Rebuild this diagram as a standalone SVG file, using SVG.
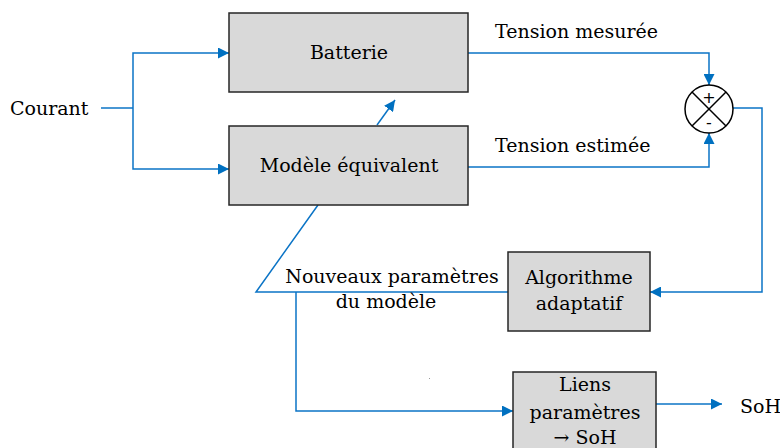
<svg xmlns="http://www.w3.org/2000/svg" width="780" height="448" viewBox="0 0 780 448">
<defs>
<marker id="ah" viewBox="0 0 10 10" refX="10" refY="5" markerWidth="11" markerHeight="11" markerUnits="userSpaceOnUse" orient="auto">
<path d="M0,0 L10,5 L0,10 z" fill="#0070C0"/>
</marker>
<style>
.box{fill:#D9D9D9;stroke:#262626;stroke-width:1.5}
.ln{fill:none;stroke:#0B74C6;stroke-width:1.5}
.t{font-family:"DejaVu Serif","Liberation Serif",serif;font-size:19px;fill:#000}
.c{text-anchor:middle}
</style>
</defs>
<rect width="780" height="448" fill="#fff"/>
<g id="connectors">
<path class="ln" d="M101,108 H133"/>
<path class="ln" d="M133,108 V53 H229" marker-end="url(#ah)"/>
<path class="ln" d="M133,108 V169 H229" marker-end="url(#ah)"/>
<path class="ln" d="M377,125 L395,100" marker-end="url(#ah)"/>
<path class="ln" d="M468,53 H709 V85" marker-end="url(#ah)"/>
<path class="ln" d="M468,167 H709 V133" marker-end="url(#ah)"/>
<path class="ln" d="M733,108 H762 V292 H650" marker-end="url(#ah)"/>
<path class="ln" d="M508,292 H256 L318,205"/>
<path class="ln" d="M296,292 V411 H513" marker-end="url(#ah)"/>
<path class="ln" d="M656,404 H722" marker-end="url(#ah)"/>
</g>
<g id="batterie">
<rect class="box" x="229" y="13" width="239" height="79"/>
<text class="t c" x="349" y="59">Batterie</text>
</g>
<g id="modele">
<rect class="box" x="229" y="126" width="239" height="79"/>
<text class="t c" x="349" y="172">Modèle équivalent</text>
</g>
<g id="sommateur">
<circle cx="709" cy="109" r="24" fill="#fff" stroke="#000" stroke-width="1.5"/>
<path d="M692,92 L726,126 M726,92 L692,126" stroke="#000" stroke-width="1.5"/>
<text x="709" y="103" text-anchor="middle" style="font-family:'DejaVu Sans',sans-serif;font-size:16px">+</text>
<text x="709" y="128" text-anchor="middle" style="font-family:'DejaVu Sans',sans-serif;font-size:16px">-</text>
</g>
<g id="algorithme">
<rect class="box" x="508" y="252" width="142" height="79"/>
<text class="t c" x="579" y="284">Algorithme</text>
<text class="t c" x="579" y="310">adaptatif</text>
</g>
<g id="liens">
<rect class="box" x="513" y="372" width="143" height="80"/>
<text class="t c" x="585" y="391">Liens</text>
<text class="t c" x="585" y="419">paramètres</text>
<text class="t c" x="585" y="444">→ SoH</text>
</g>
<g id="labels">
<text class="t" x="10" y="115">Courant</text>
<text class="t" x="495" y="38">Tension mesurée</text>
<text class="t" x="495" y="152">Tension estimée</text>
<text class="t c" x="392" y="283">Nouveaux paramètres</text>
<text class="t c" x="386" y="308">du modèle</text>
<text class="t" x="740" y="413">SoH</text>
</g>
<rect x="429" y="378" width="1" height="1" fill="#999"/>
</svg>
